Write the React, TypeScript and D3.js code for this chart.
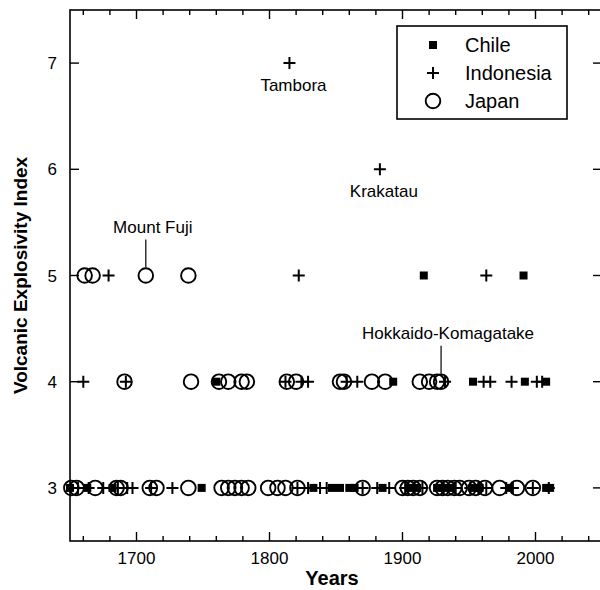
import React, { useEffect, useRef } from 'react';
import * as d3 from 'd3';

// eruption years, grouped by country and VEI
const chileVei3 = [1650, 1663, 1682, 1749, 1833, 1847, 1853, 1860, 1864, 1885, 1906, 1911, 1926, 1932, 1937, 1953, 1958, 1980, 2008, 2011];
const chileVei4 = [1760, 1893, 1953, 1992, 2008];
const chileVei5 = [1916, 1991];

const indonesiaVei3 = [1656, 1664, 1675, 1686, 1693, 1697, 1711, 1727, 1821, 1829, 1838, 1843, 1870, 1881, 1890, 1902, 1909, 1915, 1931, 1940, 1951, 1957, 1963, 1978, 1983, 1998, 2010];
const indonesiaVei4 = [1660, 1692, 1812, 1824, 1829, 1858, 1866, 1932, 1961, 1966, 1982, 2001, 2005];
const indonesiaVei5 = [1679, 1822, 1963];
const indonesiaVei6 = [1883];
const indonesiaVei7 = [1815];

const japanVei3 = [1651, 1655, 1669, 1685, 1688, 1710, 1715, 1739, 1764, 1769, 1774, 1779, 1784, 1799, 1806, 1812, 1821, 1870, 1900, 1904, 1908, 1913, 1926, 1930, 1934, 1939, 1943, 1950, 1955, 1962, 1973, 1986, 1998];
const japanVei4 = [1691, 1741, 1762, 1769, 1779, 1783, 1813, 1820, 1853, 1856, 1877, 1887, 1913, 1920, 1926, 1929];
const japanVei5 = [1661, 1667, 1707, 1739];

const countries = ['Chile', 'Indonesia', 'Japan'];
const yTicks = [3, 4, 5, 6, 7];

// labelled eruptions: name, year, vei
const labels = [
  { name: 'Tambora', year: 1815, vei: 7, kind: 'below' },
  { name: 'Krakatau', year: 1883, vei: 6, kind: 'below' },
  { name: 'Mount Fuji', year: 1707, vei: 5, kind: 'line' },
  { name: 'Hokkaido-Komagatake', year: 1929, vei: 4, kind: 'line' },
];

const toPoints = (groups, country) =>
  groups.flatMap(([vei, years]) => years.map((year) => ({ year, vei, country })));

const App = () => {
  const chartRef = useRef();

  useEffect(() => {
    const font = 'Liberation Sans, Arial, Helvetica, sans-serif';
    const left = 70, right = 602, top = 10, bottom = 541;

    const svg = d3
      .select(chartRef.current)
      .append('svg')
      .attr('width', 600)
      .attr('height', 590)
      .style('position', 'absolute')
      .style('left', 0)
      .style('top', 0)
      .style('font-family', font);

    const x = d3.scaleLinear().domain([1650, 2050]).range([left, right]);
    const y = d3.scaleLinear().domain([2.5, 7.5]).range([bottom, top]);

    const points = [
      ...toPoints([[3, chileVei3], [4, chileVei4], [5, chileVei5]], 'Chile'),
      ...toPoints([[3, indonesiaVei3], [4, indonesiaVei4], [5, indonesiaVei5], [6, indonesiaVei6], [7, indonesiaVei7]], 'Indonesia'),
      ...toPoints([[3, japanVei3], [4, japanVei4], [5, japanVei5]], 'Japan'),
    ];

    const drawMarker = (g, country) => {
      if (country === 'Chile') {
        g.append('rect').attr('x', -4).attr('y', -4).attr('width', 8).attr('height', 8).attr('fill', '#000');
      } else if (country === 'Indonesia') {
        g.append('path').attr('d', 'M-6,0H6M0,-6V6').attr('stroke', '#000').attr('stroke-width', 2).attr('fill', 'none');
      } else {
        g.append('circle').attr('r', 7.3).attr('fill', 'none').attr('stroke', '#000').attr('stroke-width', 1.9);
      }
    };

    // frame
    svg
      .append('rect')
      .attr('x', left)
      .attr('y', top)
      .attr('width', right - left)
      .attr('height', bottom - top)
      .attr('fill', 'none')
      .attr('stroke', '#000')
      .attr('stroke-width', 1.6);

    // x ticks, inward on bottom and top
    const minor = d3.range(1660, 2050, 20);
    const axes = svg.append('g').attr('stroke', '#000').attr('stroke-width', 1.4);
    minor.forEach((yr) => {
      const len = yr % 100 === 0 ? 9 : 5;
      axes.append('line').attr('x1', x(yr)).attr('x2', x(yr)).attr('y1', bottom).attr('y2', bottom - len);
      axes.append('line').attr('x1', x(yr)).attr('x2', x(yr)).attr('y1', top).attr('y2', top + len);
    });
    yTicks.forEach((v) => {
      axes.append('line').attr('x1', left).attr('x2', left + 9).attr('y1', y(v)).attr('y2', y(v));
      axes.append('line').attr('x1', right).attr('x2', right - 9).attr('y1', y(v)).attr('y2', y(v));
    });

    svg
      .selectAll('.xlab')
      .data(x.ticks(5).filter((d) => d % 100 === 0))
      .enter()
      .append('text')
      .attr('x', (d) => x(d))
      .attr('y', 564)
      .attr('text-anchor', 'middle')
      .attr('font-size', 17)
      .text((d) => d);

    svg
      .selectAll('.ylab')
      .data(yTicks)
      .enter()
      .append('text')
      .attr('x', 57)
      .attr('y', (d) => y(d) + 6)
      .attr('text-anchor', 'end')
      .attr('font-size', 17)
      .text((d) => d);

    svg
      .append('text')
      .attr('x', (left + right) / 2 - 4)
      .attr('y', 585)
      .attr('text-anchor', 'middle')
      .attr('font-size', 20)
      .attr('font-weight', 'bold')
      .text('Years');

    svg
      .append('text')
      .attr('transform', `translate(27,${(top + bottom) / 2}) rotate(-90)`)
      .attr('text-anchor', 'middle')
      .attr('font-size', 19)
      .attr('font-weight', 'bold')
      .text('Volcanic Explosivity Index');

    // points
    points.forEach((p) => {
      const g = svg.append('g').attr('transform', `translate(${x(p.year)},${y(p.vei)})`);
      drawMarker(g, p.country);
    });

    // annotations
    labels.forEach((l) => {
      const px = x(l.year), py = y(l.vei);
      if (l.kind === 'below') {
        svg.append('text').attr('x', px + 4).attr('y', py + 28).attr('text-anchor', 'middle').attr('font-size', 17).text(l.name);
      } else {
        svg.append('line').attr('x1', px).attr('x2', px).attr('y1', py - 8).attr('y2', py - 36).attr('stroke', '#000').attr('stroke-width', 1.2);
        svg.append('text').attr('x', px + 7).attr('y', py - 43).attr('text-anchor', 'middle').attr('font-size', 17).text(l.name);
      }
    });

    // legend
    const legend = svg.append('g');
    legend.append('rect').attr('x', 397).attr('y', 26).attr('width', 170).attr('height', 93).attr('fill', '#fff').attr('stroke', '#000').attr('stroke-width', 1.6);
    countries.forEach((c, i) => {
      const g = legend.append('g').attr('transform', `translate(433,${45 + i * 28})`);
      drawMarker(g, c);
      legend.append('text').attr('x', 465).attr('y', 45 + i * 28 + 7).attr('font-size', 20).text(c);
    });

    return () => {
      d3.select(chartRef.current).selectAll('svg').remove();
    };
  }, []);

  return <div ref={chartRef}></div>;
};

export default App;
